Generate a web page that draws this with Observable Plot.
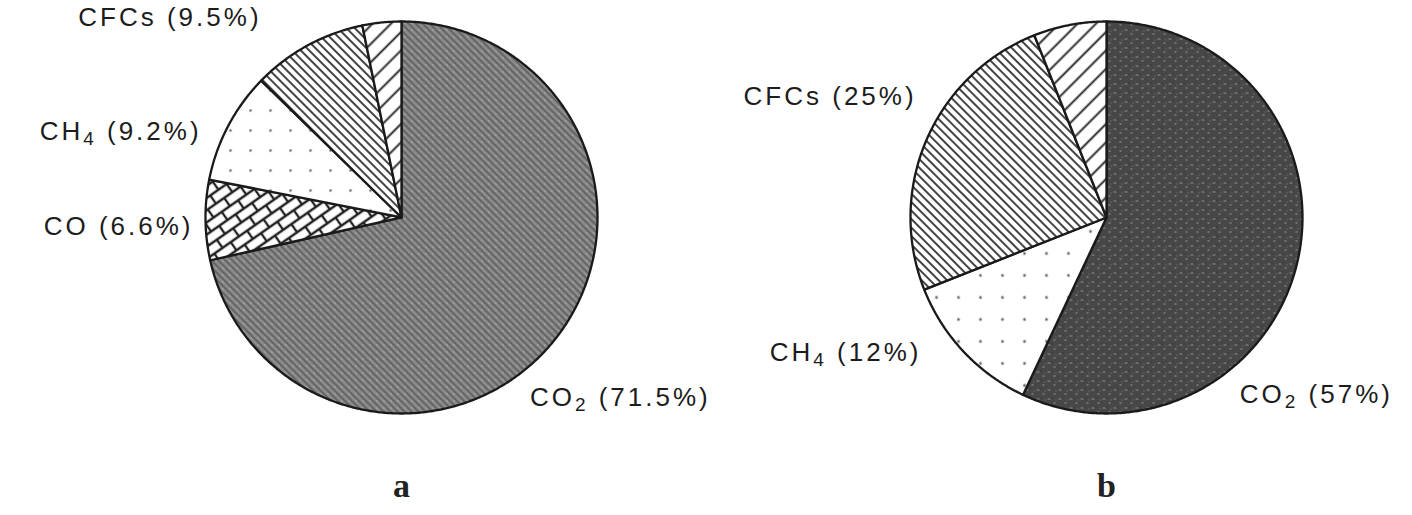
<!DOCTYPE html>
<html>
<head>
<meta charset="utf-8">
<script src="https://cdn.jsdelivr.net/npm/d3@7"></script>
<script src="https://cdn.jsdelivr.net/npm/@observablehq/plot@0.6"></script>
<style>
  html, body { margin: 0; padding: 0; background: #fff; }
  #chart { width: 1412px; height: 515px; }
</style>
</head>
<body>
<div id="chart"></div>
<script>
// ---- data ----
const pies = ["a", "b"];

const gasesA  = ["CO₂", "CO", "CH₄", "CFCs", "other"];
const valuesA = [71.5, 6.6, 9.2, 9.5, 3.2];
const labelsA = ["CO₂ (71.5%)", "CO (6.6%)", "CH₄ (9.2%)", "CFCs (9.5%)", ""];

const gasesB  = ["CO₂", "CH₄", "CFCs", "other"];
const valuesB = [57, 12, 25, 6];
const labelsB = ["CO₂ (57%)", "CH₄ (12%)", "CFCs (25%)", ""];

// ---- styles / layout (kept apart from the data) ----
const fillFor = {
  "a:CO₂": "url(#co2a)", "a:CO": "url(#brick)", "a:CH₄": "url(#dotsA)",
  "a:CFCs": "url(#cfc)", "a:other": "url(#n2o)",
  "b:CO₂": "url(#co2b)", "b:CH₄": "url(#dotsB)",
  "b:CFCs": "url(#cfc)", "b:other": "url(#n2o)"
};
// label anchor in units of the pie radius, relative to the pie centre
const labelLayout = {
  "a:CFCs": {x: -0.714, y: 1.02, anchor: "end"},
  "a:CH₄":  {x: -1.02, y: 0.44, anchor: "end"},
  "a:CO":   {x: -1.061, y: -0.045, anchor: "end"},
  "a:CO₂":  {x: 0.655, y: -0.918, anchor: "start"},
  "b:CFCs": {x: -0.969, y: 0.617, anchor: "end"},
  "b:CH₄":  {x: -0.944, y: -0.689, anchor: "end"},
  "b:CO₂":  {x: 0.68, y: -0.903, anchor: "start"}
};

// ---- build slice outlines from the values via d3.pie ----
function slicePoints(pie, gases, values) {
  const arcs = d3.pie().sort(null).value(d => d)(values);
  const pts = [];
  arcs.forEach((a, i) => {
    const key = pie + ":" + gases[i];
    pts.push({pie, key, x: 0, y: 0});
    const n = Math.max(2, Math.ceil((a.endAngle - a.startAngle) / 0.008));
    for (let k = 0; k <= n; k++) {
      const t = a.startAngle + (a.endAngle - a.startAngle) * k / n;
      pts.push({pie, key, x: Math.sin(t), y: Math.cos(t)});
    }
  });
  return pts;
}
const slices = [
  ...slicePoints("a", gasesA, valuesA),
  ...slicePoints("b", gasesB, valuesB)
];

function labelRows(pie, gases, labels) {
  return gases.map((g, i) => {
    const key = pie + ":" + g;
    const L = labelLayout[key];
    return L && labels[i] ? {pie, key, label: labels[i], x: L.x, y: L.y, anchor: L.anchor} : null;
  }).filter(Boolean);
}
const labels = [...labelRows("a", gasesA, labelsA), ...labelRows("b", gasesB, labelsB)];

const textStyle = {fontSize: 26, fill: "#1c1c1c", fontFamily: "'Liberation Sans', Arial, Helvetica, sans-serif"};

const chart = Plot.plot({
  width: 1412,
  height: 515,
  marginTop: 0,
  marginBottom: 60,
  marginLeft: 101,
  marginRight: 6,
  fx: {domain: pies, paddingInner: 0.14894, paddingOuter: 0, axis: null},
  x: {domain: [-1.5306, 1.5306], axis: null},
  y: {domain: [-1.2143, 1.1071], axis: null},
  color: {type: "identity"},
  style: {background: "#fff", overflow: "visible"},
  marks: [
    Plot.line(slices, {
      fx: "pie", x: "x", y: "y", z: "key",
      fill: d => fillFor[d.key],
      stroke: "#1a1a1a", strokeWidth: 2.3,
      strokeLinejoin: "round",
      curve: "linear-closed"
    }),
    Plot.text(labels.filter(d => d.anchor === "end"), {
      fx: "pie", x: "x", y: "y", text: "label", textAnchor: "end", ...textStyle
    }),
    Plot.text(labels.filter(d => d.anchor === "start"), {
      fx: "pie", x: "x", y: "y", text: "label", textAnchor: "start", ...textStyle
    }),
    Plot.text(pies, {
      fx: d => d, text: d => d, frameAnchor: "bottom", dy: 41,
      fontSize: 34, fontWeight: "bold", fill: "#222",
      fontFamily: "'Liberation Serif', 'Times New Roman', serif"
    })
  ]
});

// pattern definitions used by the slice fills
const defs = `
<defs>
  <pattern id="co2a" patternUnits="userSpaceOnUse" width="7" height="7">
    <rect width="7" height="7" fill="#8c8c8c"/>
    <path d="M-1,-1 L8,8 M-4,3 L3,10 M3,-4 L10,3" stroke="#5a5a5a" stroke-width="1.6"/>
    <rect x="5" y="1" width="1" height="1" fill="#c4c4c4"/>
  </pattern>
  <pattern id="co2b" patternUnits="userSpaceOnUse" width="11" height="9">
    <rect width="11" height="9" fill="#474747"/>
    <rect x="1" y="2" width="3" height="1" fill="#8e8e8e"/>
    <rect x="7" y="6" width="2" height="1" fill="#9a9a9a"/>
    <rect x="5" y="1" width="1" height="1" fill="#2a2a2a"/>
    <rect x="9" y="3" width="1" height="1" fill="#7a7a7a"/>
  </pattern>
  <pattern id="brick" patternUnits="userSpaceOnUse" width="20" height="20" patternTransform="rotate(-35)">
    <rect width="20" height="20" fill="#fff"/>
    <path d="M0,0H20 M0,10H20 M0,20H20 M0,0V10 M20,0V10 M10,10V20" stroke="#222" stroke-width="2.3" fill="none"/>
  </pattern>
  <pattern id="dotsA" patternUnits="userSpaceOnUse" width="20" height="20">
    <rect width="20" height="20" fill="#fff"/>
    <circle cx="10" cy="10" r="1.3" fill="#666"/>
  </pattern>
  <pattern id="dotsB" patternUnits="userSpaceOnUse" width="22" height="22">
    <rect width="22" height="22" fill="#fff"/>
    <circle cx="11" cy="11" r="1.4" fill="#666"/>
  </pattern>
  <pattern id="cfc" patternUnits="userSpaceOnUse" width="6" height="6" patternTransform="rotate(45)">
    <rect width="6" height="6" fill="#fff"/>
    <path d="M0,3H6" stroke="#222" stroke-width="1.7"/>
  </pattern>
  <pattern id="n2o" patternUnits="userSpaceOnUse" width="13" height="13" patternTransform="rotate(-45)">
    <rect width="13" height="13" fill="#fff"/>
    <path d="M0,6.5H13" stroke="#222" stroke-width="1.9"/>
  </pattern>
</defs>`;
chart.insertAdjacentHTML("afterbegin", defs);

// letter spacing for the gas labels, and larger, lowered subscript digits
const subs = {"₂": "2", "₄": "4"};
const SVGNS = "http://www.w3.org/2000/svg";
chart.querySelectorAll("text").forEach(t => {
  const s = t.textContent;
  if (!s.includes("%")) return;
  t.setAttribute("letter-spacing", "3");
  const m = s.match(/[₂₄]/);
  if (!m) return;
  const i = m.index;
  t.textContent = "";
  const a = document.createElementNS(SVGNS, "tspan");
  a.textContent = s.slice(0, i);
  const b = document.createElementNS(SVGNS, "tspan");
  b.textContent = subs[s[i]];
  b.setAttribute("font-size", "19");
  b.setAttribute("dy", "5");
  const c = document.createElementNS(SVGNS, "tspan");
  c.textContent = s.slice(i + 1);
  c.setAttribute("dy", "-5");
  t.append(a, b, c);
});
document.getElementById("chart").appendChild(chart);
</script>
</body>
</html>
